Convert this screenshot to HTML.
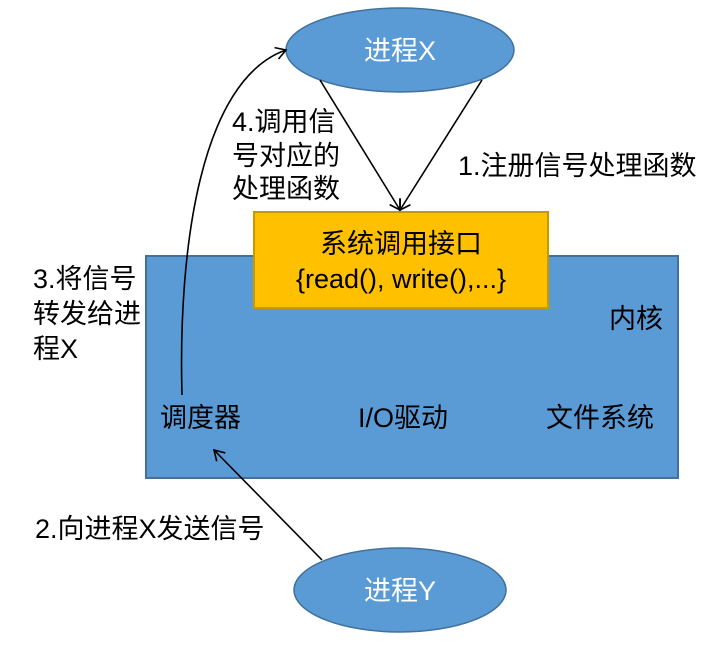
<!DOCTYPE html>
<html><head><meta charset="utf-8"><style>
body{margin:0;background:#fff;}
svg text{font-family:"Liberation Sans","Noto Sans CJK SC",sans-serif;font-size:27px;}
</style></head><body>
<svg width="718" height="644" xmlns="http://www.w3.org/2000/svg">
<defs><marker id="a" markerWidth="14" markerHeight="14" refX="11" refY="7" orient="auto" markerUnits="userSpaceOnUse"><path d="M1,1 L11,7 L1,13" fill="none" stroke="#000" stroke-width="1.6"/></marker></defs>
<rect x="146" y="256" width="532" height="222" fill="#5b9bd5" stroke="#41719c" stroke-width="2"/>
<rect x="254" y="212" width="294" height="96" fill="#ffc000" stroke="#c99700" stroke-width="2"/>
<ellipse cx="400" cy="50" rx="114" ry="42" fill="#5b9bd5" stroke="#41719c" stroke-width="1.5"/>
<ellipse cx="400" cy="590" rx="106" ry="42" fill="#5b9bd5" stroke="#41719c" stroke-width="1.5"/>
<line x1="320" y1="80" x2="400" y2="210" stroke="#000" stroke-width="1.6" marker-end="url(#a)"/>
<line x1="482" y1="80" x2="400" y2="210" stroke="#000" stroke-width="1.6" marker-end="url(#a)"/>
<path d="M182,395 C178,250 200,80 286,50" fill="none" stroke="#000" stroke-width="1.6" marker-end="url(#a)"/>
<line x1="322" y1="560" x2="214" y2="450" stroke="#000" stroke-width="1.6" marker-end="url(#a)"/>
<text x="400" y="60" fill="#fff" text-anchor="middle">进程X</text>
<text x="400" y="600" fill="#fff" text-anchor="middle">进程Y</text>
<text x="401" y="253" text-anchor="middle">系统调用接口</text>
<text x="401" y="288" text-anchor="middle">{read(), write(),...}</text>
<text x="609" y="328">内核</text>
<text x="160" y="427">调度器</text>
<text x="358" y="427">I/O驱动</text>
<text x="546" y="427">文件系统</text>
<text x="232" y="131">4.调用信</text>
<text x="232" y="165">号对应的</text>
<text x="232" y="198">处理函数</text>
<text x="458" y="175">1.注册信号处理函数</text>
<text x="33" y="288">3.将信号</text>
<text x="33" y="323">转发给进</text>
<text x="33" y="358">程X</text>
<text x="35" y="538">2.向进程X发送信号</text>
</svg>
</body></html>
